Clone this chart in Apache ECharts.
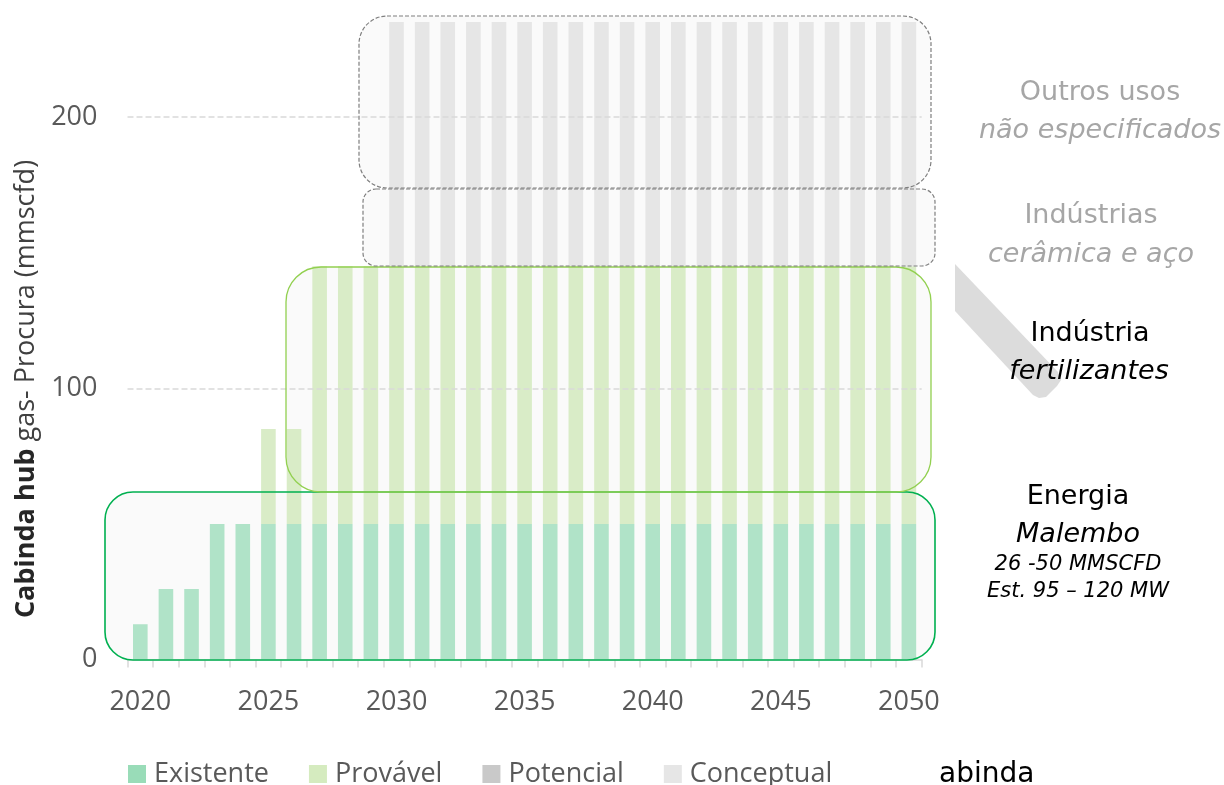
<!DOCTYPE html>
<html>
<head>
<meta charset="utf-8">
<script src="https://cdn.jsdelivr.net/npm/echarts@6/dist/echarts.min.js"></script>
<style>
html,body{margin:0;padding:0;background:#ffffff;}
#chart{width:1224px;height:785px;}
</style>
</head>
<body>
<div id="chart"></div>
<script>
// ---------- DATA ----------
const years = ['2020','2021','2022','2023','2024','2025','2026','2027','2028','2029',
               '2030','2031','2032','2033','2034','2035','2036','2037','2038','2039',
               '2040','2041','2042','2043','2044','2045','2046','2047','2048','2049','2050'];
const existente = [13,26,26,50,50,50,50,50,50,50,
                   50,50,50,50,50,50,50,50,50,50,
                   50,50,50,50,50,50,50,50,50,50,50];
const provavel = [0,0,0,0,0,35,35,95,95,95,
                  95,95,95,95,95,95,95,95,95,95,
                  95,95,95,95,95,95,95,95,95,95,95];
const potencial = [];
const conceptual = [null,null,null,null,null,null,null,null,null,null,
                    90,90,90,90,90,90,90,90,90,90,
                    90,90,90,90,90,90,90,90,90,90,90];
const seriesNames = ['Existente','Provável','Potencial','Conceptual'];
const yTickLabels = ['0','100','200'];
const yStep = 100;
const yMax = 240;

// ---------- STYLE ----------
const legendColors = ['#99DCB8','#D5EBBF','#C9C9C9','#E6E6E6'];
const barColors    = ['#B0E3C8','#D9ECC7','#C9C9C9','#E6E6E6'];
const FONT = '"Open Sans", "Noto Sans", sans-serif';
const LFONT = '"DejaVu Sans", sans-serif';

const chart = echarts.init(document.getElementById('chart'), null, {renderer:'canvas'});

function barSeries(name, data, idx){
  return {
    name: name, type: 'bar', stack: 'total', data: data,
    barCategoryGap: '43%',
    itemStyle: {color: barColors[idx]},
    emphasis: {disabled: true},
    silent: true
  };
}

// annotation boxes (decorations)
const boxes = [
  {x:105, y:492, w:830, h:168, r:28, stroke:'#00B050', lw:1.6, dash:null},
  {x:286, y:267, w:645, h:225, r:35, stroke:'#92D050', lw:1.3, dash:null},
  {x:363, y:189, w:572, h:77,  r:13, stroke:'#7F7F7F', lw:1.2, dash:[4,2]},
  {x:359, y:16,  w:572, h:172, r:28, stroke:'#7F7F7F', lw:1.2, dash:[4,2]}
];
const graphics = [];
boxes.forEach(b => {
  graphics.push({type:'rect', z:-1, silent:true,
    shape:{x:b.x, y:b.y, width:b.w, height:b.h, r:b.r},
    style:{fill:'#FAFAFA', stroke:null}});
});
boxes.forEach(b => {
  graphics.push({type:'rect', z:10, silent:true,
    shape:{x:b.x, y:b.y, width:b.w, height:b.h, r:b.r},
    style:{fill:null, stroke:b.stroke, lineWidth:b.lw, lineDash:b.dash}});
});
// grey diagonal band
graphics.push({type:'polygon', z:1, silent:true,
  shape:{points:[[955,264],[1058,372],[1061,380],[1057,386],[1046,397],[1039,398],[1033,395],[955,311]]},
  style:{fill:'#DCDCDC'}});

// right side labels
const labels = [
  {t:'Outros usos', x:1100, y:93, it:false, s:27, c:'#A6A6A6'},
  {t:'não especificados', x:1100, y:131, it:true, s:27, c:'#A6A6A6'},
  {t:'Indústrias', x:1091, y:216, it:false, s:27, c:'#A6A6A6'},
  {t:'cerâmica e aço', x:1091, y:255, it:true, s:27, c:'#A6A6A6'},
  {t:'Indústria', x:1090, y:334, it:false, s:27, c:'#000000'},
  {t:'fertilizantes', x:1089, y:372, it:true, s:27, c:'#000000'},
  {t:'Energia', x:1078, y:497, it:false, s:27, c:'#000000'},
  {t:'Malembo', x:1078, y:535, it:true, s:27, c:'#000000'},
  {t:'26 -50 MMSCFD', x:1078, y:565, it:true, s:21, c:'#000000'},
  {t:'Est. 95 – 120 MW', x:1078, y:592, it:true, s:21, c:'#000000'}
];
labels.forEach(l => {
  graphics.push({type:'text', z:20, silent:true, x:l.x, y:l.y,
    style:{text:l.t, align:'center', verticalAlign:'middle',
      fontSize:l.s, fontFamily:LFONT, fontStyle:l.it?'italic':'normal', fill:l.c}});
});
// partially hidden text at bottom
graphics.push({type:'text', z:20, silent:true, x:939, y:775,
  style:{text:'abinda', align:'left', verticalAlign:'middle', fontSize:28, fontFamily:LFONT, fill:'#000000'}});
// y-axis title
graphics.push({type:'text', z:20, silent:true, x:26, y:389, rotation:Math.PI/2,
  style:{text:'{b|Cabinda hub} gas- Procura (mmscfd)', align:'center', verticalAlign:'middle',
    fontSize:27, fontFamily:FONT, fill:'#404040',
    rich:{b:{fontSize:27, fontFamily:FONT, fontWeight:'bold', fill:'#262626'}}}});

const option = {
  animation: false,
  backgroundColor: '#ffffff',
  grid: {left:127.5, right:302.3, top:8.5, bottom:125.5, containLabel:false, outerBoundsMode:'none'},
  legend: {
    left: 128, top: 759, padding: 0,
    icon: 'rect', itemWidth: 18, itemHeight: 18, itemGap: 40,
    selectedMode: false,
    textStyle: {fontSize:27, color:'#595959', fontFamily:FONT, padding:[0,0,0,3], lineHeight:30},
    data: seriesNames.map((n,i) => ({name:n, itemStyle:{color:legendColors[i]}}))
  },
  xAxis: {
    type: 'category', data: years,
    axisLine: {show:true, lineStyle:{color:'#D9D9D9', width:1.5}},
    axisTick: {show:true, interval:0, length:8, alignWithLabel:false, lineStyle:{color:'#D9D9D9', width:1.5}},
    axisLabel: {interval:4, color:'#595959', fontSize:27, fontFamily:FONT, margin:29},
    splitLine: {show:false}
  },
  yAxis: {
    type: 'value', min: 0, max: yMax, interval: yStep, z: 3,
    axisLine: {show:false}, axisTick: {show:false},
    axisLabel: {color:'#595959', fontSize:27, fontFamily:FONT, margin:30, showMaxLabel:false,
      formatter: v => { const i = Math.round(v / yStep); return (v % yStep === 0 && i < yTickLabels.length) ? yTickLabels[i] : ''; }},
    splitLine: {show:true, showMinLine:false, showMaxLine:false, lineStyle:{color:'#D9D9D9', type:[6,3], width:1.5}}
  },
  series: [
    barSeries(seriesNames[0], existente, 0),
    barSeries(seriesNames[1], provavel, 1),
    barSeries(seriesNames[2], potencial, 2),
    barSeries(seriesNames[3], conceptual, 3)
  ],
  graphic: graphics
};
chart.setOption(option);
</script>
</body>
</html>
